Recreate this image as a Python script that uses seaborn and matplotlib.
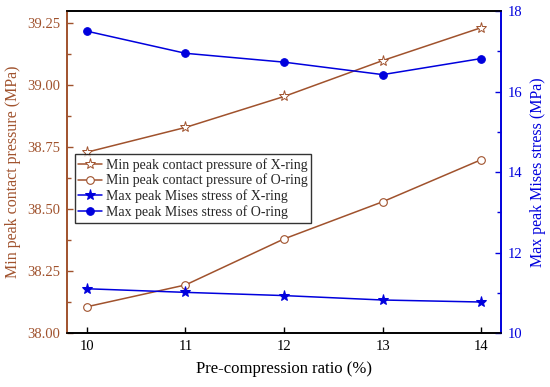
import matplotlib
matplotlib.use("Agg")
import matplotlib.pyplot as plt
import seaborn as sns
import pandas as pd
from matplotlib.ticker import MultipleLocator

sns.set_style("ticks")
plt.rcParams['font.family'] = ['Liberation Serif', 'DejaVu Serif']
plt.rcParams['mathtext.fontset'] = 'stix'

ratio = [10, 11, 12, 13, 14]
contact_x = [38.73, 38.83, 38.955, 39.10, 39.233]
contact_o = [38.106, 38.194, 38.38, 38.53, 38.70]
mises_x = [11.10, 11.01, 10.93, 10.82, 10.77]
mises_o = [17.50, 16.95, 16.73, 16.42, 16.82]

brown = "#A0522D"
blue = "#0000DD"

fig = plt.figure(figsize=(5.5, 3.87), dpi=100)
ax = fig.add_axes([0.122, 0.1395, 0.789, 0.832])
ax2 = ax.twinx()

df = pd.DataFrame({"ratio": ratio, "cx": contact_x, "co": contact_o,
                   "mx": mises_x, "mo": mises_o})

lw = 1.1
sns.lineplot(data=df, x="ratio", y="cx", ax=ax, color=brown, marker="*", markersize=8,
             markerfacecolor="white", markeredgecolor=brown, markeredgewidth=0.7, lw=lw,
             label="Min peak contact pressure of X-ring", legend=False)
sns.lineplot(data=df, x="ratio", y="co", ax=ax, color=brown, marker="o", markersize=5.5,
             markerfacecolor="white", markeredgecolor=brown, markeredgewidth=0.8, lw=lw,
             label="Min peak contact pressure of O-ring", legend=False)
sns.lineplot(data=df, x="ratio", y="mx", ax=ax2, color=blue, marker="*", markersize=8,
             markeredgecolor=blue, markerfacecolor=blue, lw=lw,
             label="Max peak Mises stress of X-ring", legend=False)
sns.lineplot(data=df, x="ratio", y="mo", ax=ax2, color=blue, marker="o", markersize=5.5,
             markeredgecolor=blue, markerfacecolor=blue, lw=lw,
             label="Max peak Mises stress of O-ring", legend=False)

ax.set_xlim(9.8, 14.2)
ax.set_ylim(38.0, 39.30)
ax2.set_ylim(10, 18)
ax.set_xticks(ratio)
ax.set_yticks([38.00, 38.25, 38.50, 38.75, 39.00, 39.25])
ax.set_yticklabels([f"{v:.2f}" for v in [38.00, 38.25, 38.50, 38.75, 39.00, 39.25]])
ax.yaxis.set_minor_locator(MultipleLocator(0.125))
ax2.set_yticks([10, 12, 14, 16, 18])
ax2.yaxis.set_minor_locator(MultipleLocator(1))

ax.set_xlabel("Pre-compression ratio (%)", fontsize=12, color="black", labelpad=6)
ax.set_ylabel("Min peak contact pressure (MPa)", fontsize=11.5, color=brown, labelpad=4)
ax2.set_ylabel("Max peak Mises stress (MPa)", fontsize=11.5, color=blue, labelpad=5)

ax.tick_params(axis='x', direction='in', length=4, width=1, labelsize=10.5, colors='black', pad=5)
ax.tick_params(axis='y', which='major', direction='in', length=4, width=1, labelsize=10.5,
               colors=brown, labelcolor=brown, pad=5)
ax.tick_params(axis='y', which='minor', direction='in', length=3, width=1, colors=brown)
ax2.tick_params(axis='y', which='major', direction='in', length=4, width=1, labelsize=10.5,
                colors=blue, labelcolor=blue, pad=5)
ax2.tick_params(axis='y', which='minor', direction='in', length=3, width=1, colors=blue)

for a in (ax, ax2):
    for s in a.spines.values():
        s.set_linewidth(1.2)
ax.spines['left'].set_color(brown)
ax2.spines['left'].set_color(brown)
ax2.spines['right'].set_color(blue)
ax.spines['right'].set_color(blue)
for a in (ax, ax2):
    a.spines['top'].set_color('black')
    a.spines['bottom'].set_color('black')

h1, l1 = ax.get_legend_handles_labels()
h2, l2 = ax2.get_legend_handles_labels()
leg = ax2.legend(h1 + h2, l1 + l2, loc='upper left', bbox_to_anchor=(0.018, 0.555),
                 fontsize=10, frameon=True, fancybox=False, edgecolor='black',
                 borderpad=0.25, labelspacing=0.15, handlelength=1.7, handletextpad=0.3,
                 borderaxespad=0)
leg.get_frame().set_linewidth(1.0)

fig.savefig("out.png", dpi=100)
